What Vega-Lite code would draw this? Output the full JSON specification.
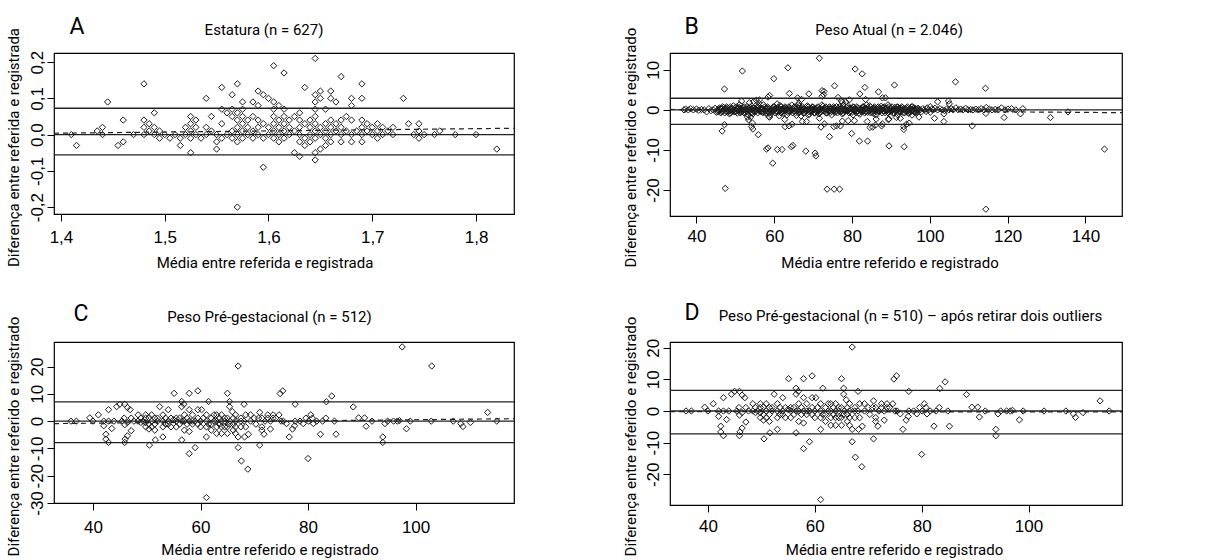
{
"$schema": "https://vega.github.io/schema/vega-lite/v6.json",
"background": "white",
"padding": {"left": 5, "top": 14, "right": 5, "bottom": 2},
"datasets": {
"a": [
{"x":1.41,"y":0},{"x":1.415,"y":-0.03},{"x":1.435,"y":0.01},{"x":1.44,"y":0.02},{"x":1.44,"y":0},{"x":1.445,"y":0.09},{"x":1.455,"y":-0.03},{"x":1.46,"y":0.04},{"x":1.46,"y":-0.02},{"x":1.47,"y":0},
{"x":1.48,"y":0.14},{"x":1.48,"y":0.04},{"x":1.48,"y":0.02},{"x":1.48,"y":0},{"x":1.485,"y":0.03},{"x":1.485,"y":0.01},{"x":1.49,"y":0.06},{"x":1.49,"y":0.02},{"x":1.49,"y":0},{"x":1.495,"y":0.01},
{"x":1.495,"y":-0.01},{"x":1.5,"y":0},{"x":1.505,"y":-0.01},{"x":1.51,"y":0},{"x":1.515,"y":-0.03},{"x":1.515,"y":-0.01},{"x":1.52,"y":0.02},{"x":1.52,"y":0},{"x":1.525,"y":0.05},{"x":1.525,"y":0.03},
{"x":1.525,"y":0.01},{"x":1.525,"y":-0.01},{"x":1.525,"y":-0.05},{"x":1.53,"y":0.04},{"x":1.53,"y":0.02},{"x":1.53,"y":0},{"x":1.535,"y":-0.01},{"x":1.54,"y":0.1},{"x":1.54,"y":0.02},{"x":1.54,"y":0},
{"x":1.545,"y":0.05},{"x":1.545,"y":0.01},{"x":1.55,"y":-0.04},{"x":1.55,"y":-0.02},{"x":1.55,"y":0},{"x":1.555,"y":0.13},{"x":1.555,"y":0.07},{"x":1.555,"y":0.03},{"x":1.555,"y":-0.01},{"x":1.56,"y":0.06},
{"x":1.56,"y":0},{"x":1.565,"y":0.11},{"x":1.565,"y":0.07},{"x":1.565,"y":0.05},{"x":1.565,"y":0.01},{"x":1.565,"y":-0.01},{"x":1.57,"y":0.14},{"x":1.57,"y":0.06},{"x":1.57,"y":0.04},{"x":1.57,"y":0.02},
{"x":1.57,"y":0},{"x":1.57,"y":-0.02},{"x":1.57,"y":-0.2},{"x":1.575,"y":0.09},{"x":1.575,"y":0.07},{"x":1.575,"y":0.05},{"x":1.575,"y":0.03},{"x":1.575,"y":0.01},{"x":1.575,"y":-0.01},{"x":1.58,"y":0.04},
{"x":1.58,"y":0.02},{"x":1.58,"y":0},{"x":1.585,"y":0.09},{"x":1.585,"y":0.05},{"x":1.585,"y":0.01},{"x":1.585,"y":-0.01},{"x":1.59,"y":0.12},{"x":1.59,"y":0.08},{"x":1.59,"y":0.04},{"x":1.59,"y":0.02},
{"x":1.59,"y":0},{"x":1.595,"y":0.11},{"x":1.595,"y":0.03},{"x":1.595,"y":-0.01},{"x":1.595,"y":-0.09},{"x":1.6,"y":0.1},{"x":1.6,"y":0.02},{"x":1.6,"y":0},{"x":1.605,"y":0.19},{"x":1.605,"y":0.09},
{"x":1.605,"y":0.07},{"x":1.605,"y":0.05},{"x":1.605,"y":0.03},{"x":1.605,"y":0.01},{"x":1.605,"y":-0.01},{"x":1.61,"y":0.08},{"x":1.61,"y":0.04},{"x":1.61,"y":0.02},{"x":1.61,"y":0},{"x":1.61,"y":-0.02},
{"x":1.615,"y":0.17},{"x":1.615,"y":0.07},{"x":1.615,"y":0.05},{"x":1.615,"y":0.03},{"x":1.615,"y":0.01},{"x":1.615,"y":-0.01},{"x":1.62,"y":0.04},{"x":1.62,"y":0.02},{"x":1.62,"y":0},{"x":1.625,"y":0.05},
{"x":1.625,"y":0.01},{"x":1.625,"y":-0.05},{"x":1.63,"y":0.06},{"x":1.63,"y":0.04},{"x":1.63,"y":0.02},{"x":1.63,"y":0},{"x":1.63,"y":-0.02},{"x":1.63,"y":-0.06},{"x":1.635,"y":0.13},{"x":1.635,"y":0.03},
{"x":1.635,"y":-0.01},{"x":1.635,"y":-0.03},{"x":1.64,"y":0.04},{"x":1.64,"y":0.02},{"x":1.64,"y":0},{"x":1.64,"y":-0.02},{"x":1.645,"y":0.21},{"x":1.645,"y":0.11},{"x":1.645,"y":0.09},{"x":1.645,"y":0.07},
{"x":1.645,"y":0.05},{"x":1.645,"y":0.03},{"x":1.645,"y":0.01},{"x":1.645,"y":-0.01},{"x":1.645,"y":-0.05},{"x":1.645,"y":-0.07},{"x":1.65,"y":0.12},{"x":1.65,"y":0.1},{"x":1.65,"y":0.02},{"x":1.65,"y":0},
{"x":1.65,"y":-0.04},{"x":1.655,"y":0.07},{"x":1.655,"y":0.03},{"x":1.655,"y":0.01},{"x":1.655,"y":-0.01},{"x":1.655,"y":-0.03},{"x":1.66,"y":0.12},{"x":1.66,"y":0.1},{"x":1.66,"y":0.04},{"x":1.66,"y":0.02},
{"x":1.66,"y":0},{"x":1.66,"y":-0.02},{"x":1.665,"y":0.09},{"x":1.665,"y":0.03},{"x":1.665,"y":0.01},{"x":1.67,"y":0.16},{"x":1.67,"y":0.04},{"x":1.67,"y":0.02},{"x":1.67,"y":0},{"x":1.67,"y":-0.02},
{"x":1.675,"y":0.05},{"x":1.675,"y":0.01},{"x":1.68,"y":0.1},{"x":1.68,"y":0.08},{"x":1.68,"y":0.04},{"x":1.68,"y":0},{"x":1.68,"y":-0.02},{"x":1.685,"y":0.01},{"x":1.69,"y":0.14},{"x":1.69,"y":0.1},
{"x":1.69,"y":0.04},{"x":1.69,"y":0.02},{"x":1.69,"y":0},{"x":1.69,"y":-0.02},{"x":1.695,"y":0.03},{"x":1.695,"y":0.01},{"x":1.7,"y":0.02},{"x":1.7,"y":0},{"x":1.705,"y":0.03},{"x":1.705,"y":0.01},
{"x":1.705,"y":-0.01},{"x":1.71,"y":0.02},{"x":1.71,"y":0},{"x":1.715,"y":0.01},{"x":1.72,"y":0.02},{"x":1.72,"y":0},{"x":1.73,"y":0.1},{"x":1.735,"y":0.03},{"x":1.74,"y":0},{"x":1.745,"y":0.03},
{"x":1.745,"y":0.01},{"x":1.745,"y":-0.01},{"x":1.75,"y":0},{"x":1.76,"y":0},{"x":1.765,"y":0.01},{"x":1.78,"y":0},{"x":1.8,"y":0},{"x":1.82,"y":-0.04}
],
"b": [
{"x":71.6,"y":12.9},{"x":51.8,"y":9.7},{"x":63.5,"y":10.5},{"x":59.9,"y":7.8},{"x":80.8,"y":10.2},{"x":82.6,"y":9.0},{"x":90.9,"y":6.2},{"x":106.6,"y":7.0},{"x":114.3,"y":5.4},{"x":47.2,"y":5.2},
{"x":75.5,"y":6.0},{"x":83.3,"y":5.6},{"x":86.8,"y":4.5},{"x":63.9,"y":4.1},{"x":68.9,"y":4.0},{"x":72.3,"y":4.8},{"x":72.8,"y":4.6},{"x":58.4,"y":3.2},{"x":58.8,"y":3.6},{"x":87.8,"y":3.0},
{"x":88.6,"y":3.0},{"x":83.5,"y":2.6},{"x":82.0,"y":4.0},{"x":79.3,"y":2.5},{"x":76.4,"y":3.1},{"x":66.0,"y":3.0},{"x":67.0,"y":2.6},{"x":77.3,"y":2.2},{"x":78.4,"y":2.0},{"x":55.4,"y":2.4},
{"x":56.2,"y":2.5},{"x":51.6,"y":2.2},{"x":53.6,"y":1.8},{"x":54.7,"y":2.1},{"x":102.0,"y":2.0},{"x":104.8,"y":2.2},{"x":105.0,"y":1.5},{"x":100.1,"y":0.8},{"x":66.3,"y":1.7},{"x":56.0,"y":1.7},
{"x":51.1,"y":1.3},{"x":72.3,"y":3.4},{"x":72.7,"y":3.8},{"x":77.5,"y":1.9},
{"x":47.2,"y":-3.7},{"x":46.6,"y":-5.3},{"x":55.9,"y":-6.2},{"x":54.5,"y":-4.8},{"x":54.2,"y":-4.2},{"x":53.4,"y":-2.5},{"x":54.4,"y":-3.3},{"x":74.2,"y":-6.7},{"x":131.0,"y":-1.9},{"x":135.5,"y":-0.5},
{"x":119.1,"y":-1.9},{"x":110.9,"y":-4.0},{"x":103.6,"y":-2.9},{"x":103.6,"y":-1.0},{"x":101.2,"y":-2.1},{"x":114.4,"y":-0.9},{"x":123.3,"y":-1.0},{"x":144.9,"y":-9.8},{"x":79.9,"y":-5.9},{"x":81.9,"y":-7.8},
{"x":84.0,"y":-7.8},{"x":89.5,"y":-9.0},{"x":93.4,"y":-9.2},{"x":93.3,"y":-4.9},{"x":93.3,"y":-4.2},{"x":94.0,"y":-3.6},{"x":94.7,"y":-3.3},{"x":89.3,"y":-2.4},{"x":64.4,"y":-9.2},{"x":64.8,"y":-8.9},
{"x":60.8,"y":-9.9},{"x":62.0,"y":-9.9},{"x":58.0,"y":-9.8},{"x":58.4,"y":-9.5},{"x":68.1,"y":-10.3},{"x":70.5,"y":-10.8},{"x":70.7,"y":-11.5},{"x":59.6,"y":-13.3},{"x":47.4,"y":-19.6},{"x":73.6,"y":-19.8},
{"x":75.4,"y":-19.8},{"x":76.8,"y":-19.8},{"x":114.4,"y":-24.8},{"x":84.6,"y":-4.4},{"x":85.3,"y":-4.3},{"x":86.0,"y":-3.8},{"x":86.2,"y":-2.3},{"x":87.6,"y":-4.0},{"x":87.8,"y":-3.5},{"x":72.0,"y":-4.3},
{"x":72.9,"y":-3.5},{"x":75.3,"y":-4.2},{"x":76.0,"y":-4.0},{"x":77.0,"y":-4.0},{"x":77.5,"y":-2.8},{"x":79.0,"y":-2.7},{"x":71.6,"y":-2.1},{"x":68.3,"y":-2.9},{"x":67.2,"y":-2.9},{"x":64.6,"y":-3.6},
{"x":63.8,"y":-4.0},{"x":62.8,"y":-4.2},{"x":62.7,"y":-2.4},{"x":58.8,"y":-1.8},{"x":53.9,"y":-1.8},{"x":53.1,"y":-1.8},{"x":58.6,"y":-1.7},{"x":61.3,"y":-1.5},{"x":66.9,"y":-1.5},{"x":65.7,"y":-1.4},
{"x":69.0,"y":-1.1},{"x":91.4,"y":-1.9},{"x":92.4,"y":-2.1},{"x":95.4,"y":-1.3},{"x":97.2,"y":-1.8},{"x":89.5,"y":-2.3},{"x":80.6,"y":-2.7},{"x":83.9,"y":-2.9},
{"x":36.8,"y":0},{"x":37.2,"y":0.2},{"x":37.9,"y":0},{"x":38.5,"y":0.3},{"x":39.2,"y":0},{"x":40.0,"y":0.2},{"x":40.6,"y":-0.1},{"x":41.3,"y":0.1},{"x":42.0,"y":0},{"x":42.6,"y":-0.5},
{"x":43.2,"y":0.3},{"x":43.7,"y":-0.2},{"x":44.3,"y":0},{"x":44.8,"y":0.4},{"x":45.1,"y":-0.6},
{"x":45.5,"y":0},{"x":45.5,"y":-0.5},{"x":46.0,"y":0.5},{"x":46.0,"y":0},{"x":46.5,"y":-0.5},{"x":46.5,"y":0.3},{"x":47.0,"y":0},{"x":47.0,"y":0.6},{"x":47.5,"y":-0.3},{"x":47.5,"y":0.4},
{"x":48.0,"y":0.5},{"x":48.0,"y":-0.6},{"x":48.5,"y":0},{"x":48.5,"y":-1.0},{"x":49.0,"y":0.4},{"x":49.0,"y":-0.4},{"x":49.5,"y":0},{"x":49.5,"y":1.0},{"x":50.0,"y":-0.5},{"x":50.0,"y":0.5},
{"x":50.5,"y":0.2},{"x":50.5,"y":-0.8},{"x":51.0,"y":0},{"x":51.0,"y":0.6},{"x":51.5,"y":-0.5},{"x":51.5,"y":0.3},{"x":52.0,"y":0.5},{"x":52.0,"y":-0.2},{"x":52.5,"y":0},{"x":52.5,"y":-0.6},
{"x":53.0,"y":0.8},{"x":53.0,"y":-0.4},{"x":53.5,"y":0},{"x":53.5,"y":0.4},{"x":54.0,"y":-0.6},{"x":54.0,"y":0.2},{"x":54.5,"y":0.5},{"x":54.5,"y":-1.0},{"x":55.0,"y":0},{"x":55.0,"y":-0.4},
{"x":55.5,"y":0.6},{"x":55.5,"y":-0.2},{"x":56.0,"y":0},{"x":56.0,"y":1.0},{"x":56.5,"y":-0.5},{"x":56.5,"y":0.4},{"x":57.0,"y":0.3},{"x":57.0,"y":-0.6},{"x":57.5,"y":0},{"x":57.5,"y":0.7},
{"x":58.0,"y":-0.8},{"x":58.0,"y":0.2},{"x":58.5,"y":0.5},{"x":58.5,"y":-0.3},{"x":59.0,"y":0},{"x":59.0,"y":-1.2},{"x":59.5,"y":0.4},{"x":59.5,"y":-0.5},{"x":60.0,"y":0},{"x":60.0,"y":0.8},
{"x":60.5,"y":-0.4},{"x":60.5,"y":0.3},{"x":61.0,"y":0.6},{"x":61.0,"y":-0.6},{"x":61.5,"y":0},{"x":61.5,"y":1.1},{"x":62.0,"y":-0.5},{"x":62.0,"y":0.2},{"x":62.5,"y":0.4},{"x":62.5,"y":-0.9},
{"x":63.0,"y":0},{"x":63.0,"y":0.5},{"x":63.5,"y":-0.6},{"x":63.5,"y":0.1},{"x":64.0,"y":0.5},{"x":64.0,"y":-0.4},{"x":64.5,"y":0},{"x":64.5,"y":1.2},{"x":65.0,"y":-0.3},{"x":65.0,"y":0.6},
{"x":65.5,"y":0.2},{"x":65.5,"y":-0.7},{"x":66.0,"y":0},{"x":66.0,"y":0.5},{"x":66.5,"y":-0.5},{"x":66.5,"y":0.9},{"x":67.0,"y":0.4},{"x":67.0,"y":-0.3},{"x":67.5,"y":0},{"x":67.5,"y":-0.8},
{"x":68.0,"y":0.6},{"x":68.0,"y":-0.2},{"x":68.5,"y":0},{"x":68.5,"y":1.0},{"x":69.0,"y":-0.5},{"x":69.0,"y":0.3},{"x":69.5,"y":0.4},{"x":69.5,"y":-0.6},{"x":70.0,"y":0},{"x":70.0,"y":0.7},
{"x":70.5,"y":-0.8},{"x":70.5,"y":0.2},{"x":71.0,"y":0.5},{"x":71.0,"y":-0.4},{"x":71.5,"y":0},{"x":71.5,"y":-1.0},{"x":72.0,"y":0.3},{"x":72.0,"y":-0.5},{"x":72.5,"y":0},{"x":72.5,"y":0.9},
{"x":73.0,"y":-0.4},{"x":73.0,"y":0.5},{"x":73.5,"y":0.2},{"x":73.5,"y":-0.8},{"x":74.0,"y":0},{"x":74.0,"y":0.6},{"x":74.5,"y":-0.6},{"x":74.5,"y":0.3},{"x":75.0,"y":0.5},{"x":75.0,"y":-0.2},
{"x":75.5,"y":0},{"x":75.5,"y":-0.7},{"x":76.0,"y":0.8},{"x":76.0,"y":-0.3},{"x":76.5,"y":0},{"x":76.5,"y":0.4},{"x":77.0,"y":-0.5},{"x":77.0,"y":0.2},{"x":77.5,"y":0.4},{"x":77.5,"y":-1.0},
{"x":78.0,"y":0},{"x":78.0,"y":-0.4},{"x":78.5,"y":0.6},{"x":78.5,"y":-0.2},{"x":79.0,"y":0},{"x":79.0,"y":1.0},{"x":79.5,"y":-0.5},{"x":79.5,"y":0.4},{"x":80.0,"y":0.3},{"x":80.0,"y":-0.6},
{"x":80.5,"y":0},{"x":80.5,"y":0.7},{"x":81.0,"y":-0.7},{"x":81.0,"y":0.2},{"x":81.5,"y":0.5},{"x":81.5,"y":-0.3},{"x":82.0,"y":0},{"x":82.0,"y":-1.1},{"x":82.5,"y":0.4},{"x":82.5,"y":-0.5},
{"x":83.0,"y":0},{"x":83.0,"y":0.8},{"x":83.5,"y":-0.4},{"x":83.5,"y":0.3},{"x":84.0,"y":0.6},{"x":84.0,"y":-0.6},{"x":84.5,"y":0},{"x":84.5,"y":1.0},{"x":85.0,"y":-0.5},{"x":85.0,"y":0.2},
{"x":85.5,"y":0.4},{"x":85.5,"y":-0.9},{"x":86.0,"y":0},{"x":86.0,"y":0.5},{"x":86.5,"y":-0.6},{"x":86.5,"y":0.1},{"x":87.0,"y":0.5},{"x":87.0,"y":-0.4},{"x":87.5,"y":0},{"x":87.5,"y":0.9},
{"x":88.0,"y":-0.3},{"x":88.0,"y":0.6},{"x":88.5,"y":0.2},{"x":88.5,"y":-0.7},{"x":89.0,"y":0},{"x":89.0,"y":0.5},{"x":89.5,"y":-0.5},{"x":89.5,"y":0.8},{"x":90.0,"y":0.4},{"x":90.0,"y":-0.3},
{"x":90.5,"y":0},{"x":90.5,"y":-0.8},{"x":91.0,"y":0.6},{"x":91.0,"y":-0.2},{"x":91.5,"y":0},{"x":91.5,"y":0.7},{"x":92.0,"y":-0.5},{"x":92.0,"y":0.3},{"x":92.5,"y":0.4},{"x":92.5,"y":-0.6},
{"x":93.0,"y":0},{"x":93.0,"y":0.6},{"x":93.5,"y":-0.7},{"x":93.5,"y":0.2},{"x":94.0,"y":0.5},{"x":94.0,"y":-0.4},{"x":94.5,"y":0},{"x":94.5,"y":-0.9},{"x":95.0,"y":0.3},{"x":95.0,"y":-0.5},
{"x":95.5,"y":0},{"x":95.5,"y":0.8},{"x":96.0,"y":-0.4},{"x":96.0,"y":0.5},{"x":96.5,"y":0.2},{"x":96.5,"y":-0.6},{"x":97.0,"y":0},{"x":97.0,"y":0.4},
{"x":45.75,"y":0.25},{"x":45.75,"y":-0.25},{"x":46.25,"y":-0.75},{"x":46.25,"y":0.25},{"x":46.75,"y":0.75},{"x":46.75,"y":-0.25},{"x":47.25,"y":0.25},{"x":47.25,"y":-0.75},{"x":47.75,"y":-0.25},{"x":47.75,"y":0.75},
{"x":48.25,"y":0.25},{"x":48.25,"y":-0.25},{"x":48.75,"y":0.75},{"x":48.75,"y":-0.75},{"x":49.25,"y":-0.25},{"x":49.25,"y":0.25},{"x":49.75,"y":0.25},{"x":49.75,"y":-0.5},{"x":50.25,"y":-0.25},{"x":50.25,"y":0.75},
{"x":50.75,"y":0.5},{"x":50.75,"y":-0.25},{"x":51.25,"y":-0.75},{"x":51.25,"y":0.25},{"x":51.75,"y":0.25},{"x":51.75,"y":-0.25},{"x":52.25,"y":0.75},{"x":52.25,"y":-0.75},{"x":52.75,"y":-0.25},{"x":52.75,"y":0.25},
{"x":53.25,"y":0.25},{"x":53.25,"y":-1.25},{"x":53.75,"y":-0.25},{"x":53.75,"y":0.75},{"x":54.25,"y":0.25},{"x":54.25,"y":-0.75},{"x":54.75,"y":-0.25},{"x":54.75,"y":0.5},{"x":55.25,"y":0.25},{"x":55.25,"y":-0.25},
{"x":55.75,"y":0.75},{"x":55.75,"y":-0.75},{"x":56.25,"y":-0.25},{"x":56.25,"y":0.25},{"x":56.75,"y":0.25},{"x":56.75,"y":-0.25},{"x":57.25,"y":-0.75},{"x":57.25,"y":1.25},{"x":57.75,"y":0.25},{"x":57.75,"y":-0.25},
{"x":58.25,"y":-0.25},{"x":58.25,"y":0.75},{"x":58.75,"y":0.25},{"x":58.75,"y":-0.75},{"x":59.25,"y":-0.25},{"x":59.25,"y":0.25},{"x":59.75,"y":0.75},{"x":59.75,"y":-0.25},{"x":60.25,"y":0.25},{"x":60.25,"y":-0.75},
{"x":60.75,"y":-0.25},{"x":60.75,"y":1.5},{"x":61.25,"y":0.25},{"x":61.25,"y":-0.25},{"x":61.75,"y":-0.75},{"x":61.75,"y":0.75},{"x":62.25,"y":0.25},{"x":62.25,"y":-0.25},{"x":62.75,"y":-0.25},{"x":62.75,"y":0.75},
{"x":63.25,"y":0.25},{"x":63.25,"y":-1.25},{"x":63.75,"y":0.75},{"x":63.75,"y":-0.25},{"x":64.25,"y":-0.25},{"x":64.25,"y":0.25},{"x":64.75,"y":0.25},{"x":64.75,"y":-0.75},{"x":65.25,"y":-0.25},{"x":65.25,"y":0.75},
{"x":65.75,"y":0.25},{"x":65.75,"y":-0.25},{"x":66.25,"y":-0.75},{"x":66.25,"y":1.25},{"x":66.75,"y":0.25},{"x":66.75,"y":-0.25},{"x":67.25,"y":-0.25},{"x":67.25,"y":0.75},{"x":67.75,"y":0.25},{"x":67.75,"y":-0.75},
{"x":68.25,"y":-0.25},{"x":68.25,"y":0.25},{"x":68.75,"y":0.75},{"x":68.75,"y":-1.25},{"x":69.25,"y":0.25},{"x":69.25,"y":-0.25},{"x":69.75,"y":-0.25},{"x":69.75,"y":0.75},{"x":70.25,"y":0.25},{"x":70.25,"y":-0.75},
{"x":70.75,"y":-0.25},{"x":70.75,"y":0.25},{"x":71.25,"y":0.75},{"x":71.25,"y":-0.25},{"x":71.75,"y":0.25},{"x":71.75,"y":-0.75},{"x":72.25,"y":-0.25},{"x":72.25,"y":1.25},{"x":72.75,"y":0.25},{"x":72.75,"y":-0.25},
{"x":73.25,"y":-0.75},{"x":73.25,"y":0.75},{"x":73.75,"y":0.25},{"x":73.75,"y":-0.25},{"x":74.25,"y":-0.25},{"x":74.25,"y":0.75},{"x":74.75,"y":0.25},{"x":74.75,"y":-1.25},{"x":75.25,"y":0.75},{"x":75.25,"y":-0.25},
{"x":75.75,"y":-0.25},{"x":75.75,"y":0.25},{"x":76.25,"y":0.25},{"x":76.25,"y":-0.75},{"x":76.75,"y":-0.25},{"x":76.75,"y":0.75},{"x":77.25,"y":0.25},{"x":77.25,"y":-0.25},{"x":77.75,"y":-0.75},{"x":77.75,"y":1.25},
{"x":78.25,"y":0.25},{"x":78.25,"y":-0.25},{"x":78.75,"y":-0.25},{"x":78.75,"y":0.75},{"x":79.25,"y":0.25},{"x":79.25,"y":-0.75},{"x":79.75,"y":-0.25},{"x":79.75,"y":0.25},{"x":80.25,"y":0.75},{"x":80.25,"y":-1.25},
{"x":80.75,"y":0.25},{"x":80.75,"y":-0.25},{"x":81.25,"y":-0.25},{"x":81.25,"y":0.75},{"x":81.75,"y":0.25},{"x":81.75,"y":-0.75},{"x":82.25,"y":-0.25},{"x":82.25,"y":0.25},{"x":82.75,"y":0.75},{"x":82.75,"y":-0.25},
{"x":83.25,"y":0.25},{"x":83.25,"y":-0.75},{"x":83.75,"y":-0.25},{"x":83.75,"y":1.25},{"x":84.25,"y":0.25},{"x":84.25,"y":-0.25},{"x":84.75,"y":-0.75},{"x":84.75,"y":0.75},{"x":85.25,"y":0.25},{"x":85.25,"y":-0.25},
{"x":85.75,"y":-0.25},{"x":85.75,"y":0.75},{"x":86.25,"y":0.25},{"x":86.25,"y":-1.25},{"x":86.75,"y":0.75},{"x":86.75,"y":-0.25},{"x":87.25,"y":-0.25},{"x":87.25,"y":0.25},{"x":87.75,"y":0.25},{"x":87.75,"y":-0.75},
{"x":88.25,"y":-0.25},{"x":88.25,"y":0.75},{"x":88.75,"y":0.25},{"x":88.75,"y":-0.25},{"x":89.25,"y":-0.75},{"x":89.25,"y":1.25},{"x":89.75,"y":0.25},{"x":89.75,"y":-0.25},{"x":90.25,"y":-0.25},{"x":90.25,"y":0.75},
{"x":90.75,"y":0.25},{"x":90.75,"y":-0.75},{"x":91.25,"y":-0.25},{"x":91.25,"y":0.25},{"x":91.75,"y":0.75},{"x":91.75,"y":-1.25},{"x":92.25,"y":0.25},{"x":92.25,"y":-0.25},{"x":92.75,"y":-0.25},{"x":92.75,"y":0.75},
{"x":93.25,"y":0.25},{"x":93.25,"y":-0.75},{"x":93.75,"y":-0.25},{"x":93.75,"y":0.25},{"x":94.25,"y":0.75},{"x":94.25,"y":-0.25},{"x":94.75,"y":0.25},{"x":94.75,"y":-0.75},{"x":95.25,"y":-0.25},{"x":95.25,"y":0.75},
{"x":95.75,"y":0.25},{"x":95.75,"y":-0.25},{"x":96.25,"y":-0.75},{"x":96.25,"y":0.25},{"x":96.75,"y":0.25},{"x":96.75,"y":-0.25},
{"x":97.5,"y":0},{"x":97.8,"y":-0.5},{"x":98.2,"y":0.3},{"x":98.6,"y":0},{"x":99.0,"y":-0.4},{"x":99.3,"y":0.5},{"x":99.7,"y":0},{"x":100.1,"y":-0.6},{"x":100.5,"y":0.2},{"x":100.9,"y":0},
{"x":101.3,"y":0.4},{"x":102.0,"y":0},{"x":102.6,"y":0.3},{"x":103.2,"y":0},{"x":103.8,"y":-0.2},{"x":104.3,"y":0.2},{"x":104.9,"y":0},{"x":105.5,"y":0.3},{"x":106.0,"y":0},{"x":106.7,"y":0.5},
{"x":107.3,"y":0},{"x":107.9,"y":0.2},{"x":108.5,"y":0},{"x":109.2,"y":0.4},{"x":109.8,"y":0},{"x":110.5,"y":0.1},{"x":111.1,"y":0},{"x":111.8,"y":0.2},{"x":112.5,"y":0},{"x":113.2,"y":0.3},
{"x":113.9,"y":0},{"x":114.5,"y":0.6},{"x":115.3,"y":0.2},{"x":116.0,"y":0},{"x":116.8,"y":0.1},{"x":117.6,"y":0},{"x":118.4,"y":0.5},{"x":119.3,"y":0},{"x":120.1,"y":0.2},{"x":121.0,"y":0.3},
{"x":122.1,"y":0},{"x":123.9,"y":0.3}
],
"c": [
{"x":35.9,"y":0,"o":0},{"x":36.9,"y":0,"o":0},{"x":39.4,"y":1.2,"o":0},{"x":40,"y":0,"o":0},{"x":41,"y":2.3,"o":0},{"x":42,"y":-1.7,"o":0},{"x":42,"y":0,"o":0},{"x":42.4,"y":-4.8,"o":0},{"x":42.4,"y":-6.6,"o":0},{"x":42.9,"y":-7.8,"o":0},
{"x":42.9,"y":4.2,"o":0},{"x":43.5,"y":-2.7,"o":0},{"x":42.9,"y":0,"o":0},{"x":43.9,"y":0,"o":0},{"x":44.4,"y":5.3,"o":0},{"x":45,"y":6.2,"o":0},{"x":45.9,"y":6.2,"o":0},{"x":46.4,"y":5,"o":0},{"x":46.9,"y":4.2,"o":0},{"x":45.4,"y":0,"o":0},
{"x":45.8,"y":1.1,"o":0},{"x":45.9,"y":-1.3,"o":0},{"x":45.9,"y":-7.8,"o":0},{"x":46.4,"y":-5.4,"o":0},{"x":46,"y":-6.6,"o":0},{"x":47.1,"y":-3.5,"o":0},{"x":46.4,"y":-0.5,"o":0},{"x":47.1,"y":1.1,"o":0},{"x":47.6,"y":0,"o":0},{"x":48.4,"y":2.3,"o":0},
{"x":48.9,"y":1.1,"o":0},{"x":48.9,"y":-0.5,"o":0},{"x":49.8,"y":2.3,"o":0},{"x":49.8,"y":1.1,"o":0},{"x":49.8,"y":-0.5,"o":0},{"x":49.8,"y":-2.1,"o":0},{"x":50.4,"y":1.3,"o":0},{"x":50.4,"y":-1.1,"o":0},{"x":50.4,"y":-2.9,"o":0},{"x":50.5,"y":-8.8,"o":0},
{"x":50.9,"y":2.3,"o":0},{"x":50.9,"y":0,"o":0},{"x":50.9,"y":-2.1,"o":0},{"x":51.5,"y":1.1,"o":0},{"x":51.5,"y":-1.1,"o":0},{"x":51.5,"y":-3.3,"o":0},{"x":51.6,"y":-6.9,"o":0},{"x":52.4,"y":5.3,"o":0},{"x":53,"y":2.3,"o":0},{"x":53,"y":0,"o":0},
{"x":53,"y":-2.1,"o":0},{"x":53,"y":-5.8,"o":0},{"x":53.5,"y":1.1,"o":0},{"x":53.5,"y":-1.1,"o":0},{"x":54,"y":4.2,"o":0},{"x":54.5,"y":1.1,"o":0},{"x":54.5,"y":-2.1,"o":0},{"x":55.1,"y":10.2,"o":0},{"x":55.5,"y":0,"o":0},{"x":55.5,"y":-2.1,"o":0},
{"x":56.1,"y":1.1,"o":0},{"x":56.1,"y":-1.1,"o":0},{"x":56.5,"y":7.2,"o":0},{"x":56.9,"y":6.2,"o":0},{"x":56.5,"y":5.3,"o":0},{"x":56.5,"y":-6.9,"o":0},{"x":57,"y":2.3,"o":0},{"x":57,"y":0,"o":0},{"x":57,"y":-3.3,"o":0},{"x":57.9,"y":10.2,"o":0},
{"x":57.9,"y":4.2,"o":0},{"x":57.9,"y":0,"o":0},{"x":57.9,"y":-3.8,"o":0},{"x":57.9,"y":-11.9,"o":0},{"x":58.5,"y":2.3,"o":0},{"x":58.5,"y":-1.1,"o":0},{"x":59,"y":-9.7,"o":0},{"x":59.5,"y":11.1,"o":0},{"x":59.5,"y":4.2,"o":0},{"x":59.5,"y":1.1,"o":0},
{"x":60,"y":-2.1,"o":0},{"x":60,"y":0,"o":0},{"x":60.2,"y":4.2,"o":0},{"x":61.1,"y":-5.8,"o":0},{"x":61.1,"y":2.3,"o":0},{"x":61.1,"y":0,"o":0},{"x":61.1,"y":-2.1,"o":0},{"x":61.5,"y":7.2,"o":0},{"x":61.1,"y":-28,"o":0},{"x":62,"y":1.1,"o":0},
{"x":62,"y":-1.1,"o":0},{"x":62,"y":-3.3,"o":0},{"x":63,"y":2.3,"o":0},{"x":63,"y":0,"o":0},{"x":63,"y":-2.1,"o":0},{"x":63,"y":-4.5,"o":0},{"x":63.9,"y":2.3,"o":0},{"x":63.9,"y":0,"o":0},{"x":63.9,"y":-2.1,"o":0},{"x":63.9,"y":-4.5,"o":0},
{"x":65,"y":10.2,"o":0},{"x":65.4,"y":7.2,"o":0},{"x":65.4,"y":5.3,"o":0},{"x":65.9,"y":3.5,"o":0},{"x":65,"y":1.1,"o":0},{"x":65,"y":-2.1,"o":0},{"x":65,"y":-4.5,"o":0},{"x":66.1,"y":-1.1,"o":0},{"x":66.1,"y":-3.3,"o":0},{"x":66.5,"y":2.3,"o":0},
{"x":66.5,"y":0,"o":0},{"x":66.5,"y":-2.1,"o":0},{"x":66.5,"y":-4.5,"o":0},{"x":67,"y":20.2,"o":0},{"x":67,"y":-5.8,"o":0},{"x":67,"y":-9.7,"o":0},{"x":67.6,"y":-14.6,"o":0},{"x":68.1,"y":6.2,"o":0},{"x":68.1,"y":0,"o":0},{"x":68.2,"y":-5.8,"o":0},
{"x":68.8,"y":-17.6,"o":0},{"x":48.4,"y":0,"o":0},{"x":49.3,"y":0,"o":0},{"x":52,"y":0,"o":0},{"x":52,"y":1.1,"o":0},{"x":54,"y":0,"o":0},{"x":54,"y":-1.1,"o":0},{"x":55,"y":0.5,"o":0},{"x":56.5,"y":0,"o":0},{"x":58.5,"y":0,"o":0},
{"x":59,"y":0,"o":0},{"x":60.5,"y":1.1,"o":0},{"x":62.5,"y":0,"o":0},{"x":62.5,"y":2.3,"o":0},{"x":64.5,"y":0,"o":0},{"x":64.5,"y":1.1,"o":0},{"x":64.5,"y":-2.1,"o":0},{"x":65.5,"y":0,"o":0},{"x":66.1,"y":1.1,"o":0},{"x":67.5,"y":0,"o":0},
{"x":67.5,"y":1.1,"o":0},{"x":67.5,"y":-2.1,"o":0},{"x":65.4,"y":-1.1,"o":0},{"x":63.5,"y":-1.1,"o":0},{"x":63.5,"y":1.1,"o":0},{"x":61.5,"y":-1.1,"o":0},{"x":59.5,"y":-1.1,"o":0},{"x":57.5,"y":1.1,"o":0},{"x":57.5,"y":-1.1,"o":0},{"x":55.5,"y":1.1,"o":0},
{"x":68.4,"y":2.3,"o":0},{"x":68.4,"y":-2.1,"o":0},{"x":68.9,"y":-4.8,"o":0},{"x":69.3,"y":2.3,"o":0},{"x":69.3,"y":0,"o":0},{"x":70.0,"y":1.1,"o":0},{"x":70.3,"y":-1.1,"o":0},{"x":70.8,"y":1.1,"o":0},{"x":71.0,"y":3.2,"o":0},{"x":71.0,"y":-8.8,"o":0},
{"x":71.4,"y":1.1,"o":0},{"x":71.4,"y":-2.1,"o":0},{"x":71.4,"y":-3.3,"o":0},{"x":71.8,"y":-4.8,"o":0},{"x":72.0,"y":0,"o":0},{"x":72.5,"y":1.1,"o":0},{"x":72.5,"y":2.3,"o":0},{"x":73.0,"y":-2.9,"o":0},{"x":73.0,"y":0,"o":0},{"x":73.5,"y":2.3,"o":0},
{"x":73.5,"y":1.1,"o":0},{"x":74.0,"y":1.1,"o":0},{"x":74.6,"y":2.3,"o":0},{"x":75.0,"y":0,"o":0},{"x":75.4,"y":0,"o":0},{"x":74.8,"y":10.1,"o":0},{"x":75.3,"y":11.1,"o":0},{"x":76.0,"y":-0.9,"o":0},{"x":76.5,"y":-5.8,"o":0},{"x":77.1,"y":-2.9,"o":0},
{"x":77.5,"y":-1.7,"o":0},{"x":77.6,"y":6.2,"o":0},{"x":77.6,"y":0,"o":0},{"x":78.5,"y":0,"o":0},{"x":79.1,"y":-0.9,"o":0},{"x":79.6,"y":1.1,"o":0},{"x":80.1,"y":0,"o":0},{"x":80.5,"y":2.3,"o":0},{"x":80.8,"y":1.1,"o":0},{"x":81.0,"y":-0.9,"o":0},
{"x":81.6,"y":0,"o":0},{"x":80.0,"y":-13.7,"o":0},{"x":82.3,"y":-4.8,"o":0},{"x":82.7,"y":0,"o":0},{"x":83.3,"y":1.1,"o":0},{"x":83.4,"y":7.1,"o":0},{"x":84.4,"y":9.2,"o":0},{"x":84.9,"y":0,"o":0},{"x":85.2,"y":-4.8,"o":0},{"x":88.4,"y":5.2,"o":0},
{"x":89.4,"y":1.2,"o":0},{"x":90.5,"y":1.2,"o":0},{"x":90.8,"y":-1.9,"o":0},{"x":91.9,"y":0,"o":0},{"x":93.9,"y":-5.8,"o":0},{"x":93.9,"y":-7.8,"o":0},{"x":94.3,"y":-0.9,"o":0},{"x":94.8,"y":0,"o":0},{"x":95.9,"y":0,"o":0},{"x":96.6,"y":0,"o":0},
{"x":97.0,"y":0.2,"o":0},{"x":97.5,"y":27.2,"o":1},{"x":98.3,"y":-2.8,"o":0},{"x":99,"y":0,"o":0},{"x":103,"y":20.2,"o":1},{"x":102.9,"y":0,"o":0},{"x":107,"y":0,"o":0},{"x":108.4,"y":-0.9,"o":0},{"x":108.8,"y":-2,"o":0},{"x":110.2,"y":-0.5,"o":0},
{"x":113.4,"y":3.2,"o":0},{"x":115.1,"y":0,"o":0}
]
},
"columns": 2,
"spacing": {"row": 126, "column": 156},
"bounds": "flush",
"concat": [
{
"width": 460, "height": 161,
"resolve": {"axis": {"x": "independent", "y": "independent"}},
"layer": [
{"data": {"name": "a"},
 "mark": {"type": "point", "shape": "diamond", "filled": false, "stroke": "#1a1a1a", "strokeWidth": 1, "size": 40, "opacity": 1},
 "encoding": {
  "x": {"field": "x", "type": "quantitative", "scale": {"domain": [1.3933, 1.8366], "nice": false, "zero": false},
        "axis": {"values": [1.4, 1.5, 1.6, 1.7, 1.8], "labelExpr": "replace(format(datum.value,'.1f'),'.',',')", "title": "Média entre referida e registrada", "titleX": 210.5, "titleY": 53.7, "labelPadding": 21.4}},
  "y": {"field": "y", "type": "quantitative", "scale": {"domain": [-0.219, 0.225], "nice": false, "zero": false},
        "axis": {"values": [-0.2, -0.1, 0, 0.1, 0.2], "labelExpr": "replace(replace(format(datum.value,'.1f'),'.',','),'\u2212','-')", "title": "Diferença entre referida e registrada", "titleX": -35.5, "titleY": 94}}
 }},
{"data": {"values": [{"y": 0.0726}, {"y": 0}, {"y": -0.056}]},
 "mark": {"type": "rule", "stroke": "#222", "strokeWidth": 1.3},
 "encoding": {
  "y": {"field": "y", "type": "quantitative", "scale": {"domain": [-0.219, 0.225], "nice": false, "zero": false},
        "axis": {"orient": "right", "title": "A", "labels": false, "ticks": false, "domain": false, "titleAngle": 0.01, "titleX": -445, "titleY": -20, "titleAlign": "left", "titleBaseline": "alphabetic", "titleFontSize": 23}}
 }},
{"data": {"values": [{"x": 1.3933, "y": 0.0037, "x2": 1.8366, "y2": 0.0175}]},
 "mark": {"type": "rule", "stroke": "#222", "strokeWidth": 1.2, "strokeDash": [5, 4]},
 "encoding": {
  "x": {"field": "x", "type": "quantitative", "scale": {"domain": [1.3933, 1.8366], "nice": false, "zero": false},
        "axis": {"orient": "top", "title": "Estatura (n = 627)", "labels": false, "ticks": false, "domain": false, "titleX": 209.5, "titleY": -18.7, "titleAlign": "center", "titleBaseline": "alphabetic"}},
  "y": {"field": "y", "type": "quantitative", "scale": {"domain": [-0.219, 0.225], "nice": false, "zero": false}, "axis": null},
  "x2": {"field": "x2"}, "y2": {"field": "y2"}
 }}
]
},
{
"width": 452, "height": 163,
"resolve": {"axis": {"x": "independent", "y": "independent"}},
"layer": [
{"data": {"name": "b"},
 "mark": {"type": "point", "shape": "diamond", "filled": false, "stroke": "#1a1a1a", "strokeWidth": 1, "size": 40, "opacity": 1},
 "encoding": {
  "x": {"field": "x", "type": "quantitative", "scale": {"domain": [33.2, 149.4], "nice": false, "zero": false},
        "axis": {"values": [40, 60, 80, 100, 120, 140], "title": "Média entre referido e registrado", "titleX": 219.5, "titleY": 51.7, "labelPadding": 18.7}},
  "y": {"field": "y", "type": "quantitative", "scale": {"domain": [-26.5, 14.2], "nice": false, "zero": false},
        "axis": {"values": [-20, -10, 0, 10], "labelExpr": "replace(format(datum.value,'d'),'\u2212','-')", "title": "Diferença entre referido e registrado", "titleX": -35, "titleY": 94}}
 }},
{"data": {"values": [{"y": 2.9}, {"y": 0}, {"y": -3.6}]},
 "mark": {"type": "rule", "stroke": "#222", "strokeWidth": 1.3},
 "encoding": {
  "y": {"field": "y", "type": "quantitative", "scale": {"domain": [-26.5, 14.2], "nice": false, "zero": false},
        "axis": {"orient": "right", "title": "B", "labels": false, "ticks": false, "domain": false, "titleAngle": 0.01, "titleX": -438, "titleY": -20, "titleAlign": "left", "titleBaseline": "alphabetic", "titleFontSize": 23}}
 }},
{"data": {"values": [{"x": 33.2, "y": 0.1, "x2": 149.4, "y2": -0.7}]},
 "mark": {"type": "rule", "stroke": "#222", "strokeWidth": 1.2, "strokeDash": [5, 4]},
 "encoding": {
  "x": {"field": "x", "type": "quantitative", "scale": {"domain": [33.2, 149.4], "nice": false, "zero": false},
        "axis": {"orient": "top", "title": "Peso Atual (n = 2.046)", "labels": false, "ticks": false, "domain": false, "titleX": 218.5, "titleY": -18.5, "titleAlign": "center", "titleBaseline": "alphabetic"}},
  "y": {"field": "y", "type": "quantitative", "scale": {"domain": [-26.5, 14.2], "nice": false, "zero": false}, "axis": null},
  "x2": {"field": "x2"}, "y2": {"field": "y2"}
 }}
]
},
{
"width": 460, "height": 161,
"resolve": {"axis": {"x": "independent", "y": "independent"}},
"layer": [
{"data": {"name": "c"},
 "mark": {"type": "point", "shape": "diamond", "filled": false, "stroke": "#1a1a1a", "strokeWidth": 1, "size": 40, "opacity": 1},
 "encoding": {
  "x": {"field": "x", "type": "quantitative", "scale": {"domain": [32.75, 118.3], "nice": false, "zero": false},
        "axis": {"values": [40, 60, 80, 100], "title": "Média entre referido e registrado", "titleX": 215.5, "titleY": 51, "labelPadding": 22.4}},
  "y": {"field": "y", "type": "quantitative", "scale": {"domain": [-30, 29], "nice": false, "zero": false},
        "axis": {"values": [-30, -20, -10, 0, 10, 20], "labelExpr": "replace(format(datum.value,'d'),'\u2212','-')", "title": "Diferença entre referido e registrado", "titleX": -35.5, "titleY": 94}}
 }},
{"data": {"values": [{"y": 7.07}, {"y": 0}, {"y": -7.9}]},
 "mark": {"type": "rule", "stroke": "#222", "strokeWidth": 1.3},
 "encoding": {
  "y": {"field": "y", "type": "quantitative", "scale": {"domain": [-30, 29], "nice": false, "zero": false},
        "axis": {"orient": "right", "title": "C", "labels": false, "ticks": false, "domain": false, "titleAngle": 0.01, "titleX": -441, "titleY": -21.7, "titleAlign": "left", "titleBaseline": "alphabetic", "titleFontSize": 23}}
 }},
{"data": {"values": [{"x": 32.75, "y": -0.9, "x2": 118.3, "y2": 0.9}]},
 "mark": {"type": "rule", "stroke": "#222", "strokeWidth": 1.2, "strokeDash": [5, 4]},
 "encoding": {
  "x": {"field": "x", "type": "quantitative", "scale": {"domain": [32.75, 118.3], "nice": false, "zero": false},
        "axis": {"orient": "top", "title": "Peso Pré-gestacional (n = 512)", "labels": false, "ticks": false, "domain": false, "titleX": 215, "titleY": -21, "titleAlign": "center", "titleBaseline": "alphabetic"}},
  "y": {"field": "y", "type": "quantitative", "scale": {"domain": [-30, 29], "nice": false, "zero": false}, "axis": null},
  "x2": {"field": "x2"}, "y2": {"field": "y2"}
 }}
]
},
{
"width": 452, "height": 163,
"resolve": {"axis": {"x": "independent", "y": "independent"}},
"layer": [
{"data": {"name": "c"},
 "transform": [{"filter": "datum.o != 1"}],
 "mark": {"type": "point", "shape": "diamond", "filled": false, "stroke": "#1a1a1a", "strokeWidth": 1, "size": 40, "opacity": 1},
 "encoding": {
  "x": {"field": "x", "type": "quantitative", "scale": {"domain": [32.9, 117.5], "nice": false, "zero": false},
        "axis": {"values": [40, 60, 80, 100], "title": "Média entre referido e registrado", "titleX": 224, "titleY": 49, "labelPadding": 19.7}},
  "y": {"field": "y", "type": "quantitative", "scale": {"domain": [-29.7, 21.8], "nice": false, "zero": false},
        "axis": {"values": [-20, -10, 0, 10, 20], "labelExpr": "replace(format(datum.value,'d'),'\u2212','-')", "title": "Diferença entre referido e registrado", "titleX": -35, "titleY": 94}}
 }},
{"data": {"values": [{"y": 6.5}, {"y": 0}, {"y": -7.2}]},
 "mark": {"type": "rule", "stroke": "#222", "strokeWidth": 1.3},
 "encoding": {
  "y": {"field": "y", "type": "quantitative", "scale": {"domain": [-29.7, 21.8], "nice": false, "zero": false},
        "axis": {"orient": "right", "title": "D", "labels": false, "ticks": false, "domain": false, "titleAngle": 0.01, "titleX": -438, "titleY": -22.7, "titleAlign": "left", "titleBaseline": "alphabetic", "titleFontSize": 23}}
 }},
{"data": {"values": [{"x": 32.9, "y": -0.2, "x2": 117.5, "y2": -0.3}]},
 "mark": {"type": "rule", "stroke": "#222", "strokeWidth": 1.2, "strokeDash": [5, 4]},
 "encoding": {
  "x": {"field": "x", "type": "quantitative", "scale": {"domain": [32.9, 117.5], "nice": false, "zero": false},
        "axis": {"orient": "top", "title": "Peso Pré-gestacional (n = 510) – após retirar dois outliers", "labels": false, "ticks": false, "domain": false, "titleX": 240, "titleY": -21.7, "titleAlign": "center", "titleBaseline": "alphabetic"}},
  "y": {"field": "y", "type": "quantitative", "scale": {"domain": [-29.7, 21.8], "nice": false, "zero": false}, "axis": null},
  "x2": {"field": "x2"}, "y2": {"field": "y2"}
 }}
]
}
],
"config": {
 "view": {"stroke": "#000", "strokeWidth": 1.2},
 "axis": {"grid": false, "domain": false, "tickColor": "#000", "tickSize": 7, "tickWidth": 1, "labelFont": "Liberation Sans", "labelFontSize": 17, "labelColor": "#000", "titleFont": "Roboto", "titleFontSize": 15, "titleFontWeight": "normal", "titleColor": "#000", "labelFlush": false, "labelOverlap": false, "labelBound": false},
 "axisX": {"labelBaseline": "alphabetic", "labelAngle": 0},
 "axisBottom": {"titleBaseline": "alphabetic", "titleAlign": "center"},
 "axisLeft": {"labelAngle": 270, "labelAlign": "center", "labelBaseline": "alphabetic", "labelPadding": 4.6, "titleAngle": 270, "titleBaseline": "alphabetic", "titleAlign": "center"}
}
}
